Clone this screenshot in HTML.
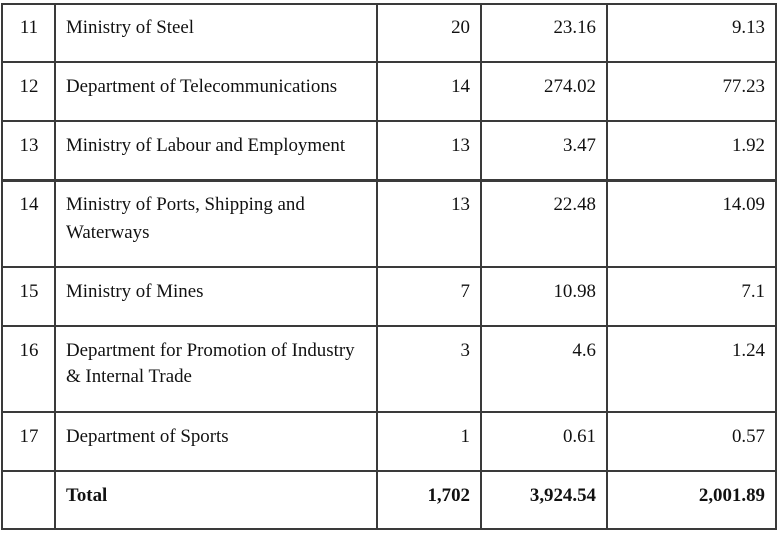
<!DOCTYPE html><html><head><style>
body{margin:0;width:778px;height:534px;background:#fff;position:relative;overflow:hidden;font-family:"Liberation Serif",serif;font-size:18.9px;color:#111}
.h{position:absolute;left:1px;width:776px;background:#3a3a3a}
.v{position:absolute;top:3px;height:527px;width:2px;background:#3a3a3a}
.t{position:absolute;line-height:20px;white-space:nowrap;margin-top:2px}
.c{width:54px;left:2px;text-align:center}
.n{left:66px}
.r1{right:308px;text-align:right}
.r2{right:182px;text-align:right}
.r3{right:13px;text-align:right}
b{font-weight:bold}
</style></head><body>
<div class="h" style="top:3px;height:2px"></div>
<div class="h" style="top:61px;height:2px"></div>
<div class="h" style="top:120px;height:2px"></div>
<div class="h" style="top:179px;height:3px"></div>
<div class="h" style="top:266px;height:2px"></div>
<div class="h" style="top:325px;height:2px"></div>
<div class="h" style="top:411px;height:2px"></div>
<div class="h" style="top:470px;height:2px"></div>
<div class="h" style="top:528px;height:2px"></div>
<div class="v" style="left:1px"></div>
<div class="v" style="left:54px"></div>
<div class="v" style="left:376px"></div>
<div class="v" style="left:480px"></div>
<div class="v" style="left:606px"></div>
<div class="v" style="left:775px"></div>

<div class="t c" style="top:16px">11</div><div class="t n" style="top:16px">Ministry of Steel</div><div class="t r1" style="top:16px">20</div><div class="t r2" style="top:16px">23.16</div><div class="t r3" style="top:16px">9.13</div>
<div class="t c" style="top:75px">12</div><div class="t n" style="top:75px">Department of Telecommunications</div><div class="t r1" style="top:75px">14</div><div class="t r2" style="top:75px">274.02</div><div class="t r3" style="top:75px">77.23</div>
<div class="t c" style="top:134px">13</div><div class="t n" style="top:134px">Ministry of Labour and Employment</div><div class="t r1" style="top:134px">13</div><div class="t r2" style="top:134px">3.47</div><div class="t r3" style="top:134px">1.92</div>
<div class="t c" style="top:193px">14</div><div class="t n" style="top:193px">Ministry of Ports, Shipping and</div><div class="t n" style="top:221px">Waterways</div><div class="t r1" style="top:193px">13</div><div class="t r2" style="top:193px">22.48</div><div class="t r3" style="top:193px">14.09</div>
<div class="t c" style="top:280px">15</div><div class="t n" style="top:280px">Ministry of Mines</div><div class="t r1" style="top:280px">7</div><div class="t r2" style="top:280px">10.98</div><div class="t r3" style="top:280px">7.1</div>
<div class="t c" style="top:339px">16</div><div class="t n" style="top:339px">Department for Promotion of Industry</div><div class="t n" style="top:365px">&amp; Internal Trade</div><div class="t r1" style="top:339px">3</div><div class="t r2" style="top:339px">4.6</div><div class="t r3" style="top:339px">1.24</div>
<div class="t c" style="top:425px">17</div><div class="t n" style="top:425px">Department of Sports</div><div class="t r1" style="top:425px">1</div><div class="t r2" style="top:425px">0.61</div><div class="t r3" style="top:425px">0.57</div>
<div class="t n" style="top:484px"><b>Total</b></div><div class="t r1" style="top:484px"><b>1,702</b></div><div class="t r2" style="top:484px"><b>3,924.54</b></div><div class="t r3" style="top:484px"><b>2,001.89</b></div>
</body></html>
